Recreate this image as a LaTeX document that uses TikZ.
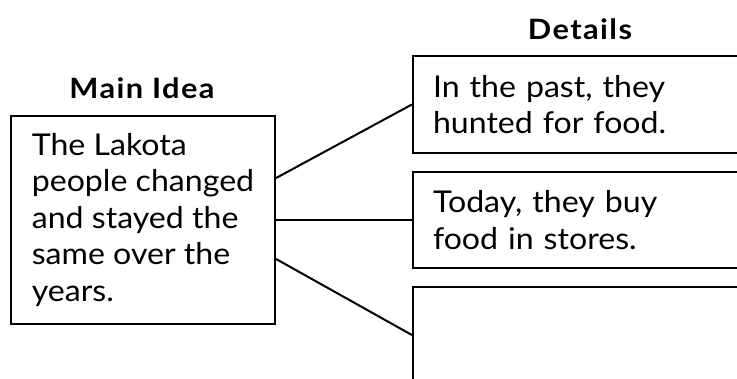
\documentclass[tikz,border=0pt]{standalone}
\usepackage{fontspec}
\setmainfont{Lato}[FakeStretch=1.07]
\newfontfamily\headfont{Lato}[LetterSpace=5.0,FakeStretch=1.1]
\usepackage{tikz}
\usetikzlibrary{positioning}

\begin{document}
\begin{tikzpicture}[x=1pt,y=-1pt]
	\tikzstyle{box}=[draw=black,line width=2.2pt,align=left,font=\fontsize{30}{36.5}\selectfont]
	\tikzstyle{heading}=[font=\headfont\bfseries\fontsize{28}{30}\selectfont]
	\tikzstyle{link}=[line width=2pt]
	\clip (0,0) rectangle (737,379);
	% main idea
	\node[heading](mainhead) at (142,88) {Main Idea};
	\node[box,minimum width=264pt,minimum height=208pt](main) at (143,220) {The Lakota\\people changed\\and stayed the\\same over the\\years.};
	% details
	\node[heading](dethead) at (580,29) {Details};
	\node[box,minimum width=360pt,minimum height=97pt,text width=320pt](d1) at (593,104.5) {In the past, they\\hunted for food.};
	\node[box,minimum width=360pt,minimum height=96pt,text width=320pt](d2) at (593,220) {Today, they buy\\food in stores.};
	\node[box,minimum width=360pt,minimum height=96pt](d3) at (593,335) {};
	\draw[link]([yshift=42pt]main.east) -- (d1.west);
	\draw[link](main.east) -- (d2.west);
	\draw[link]([yshift=-39pt]main.east) -- (d3.west);
\end{tikzpicture}
\end{document}
